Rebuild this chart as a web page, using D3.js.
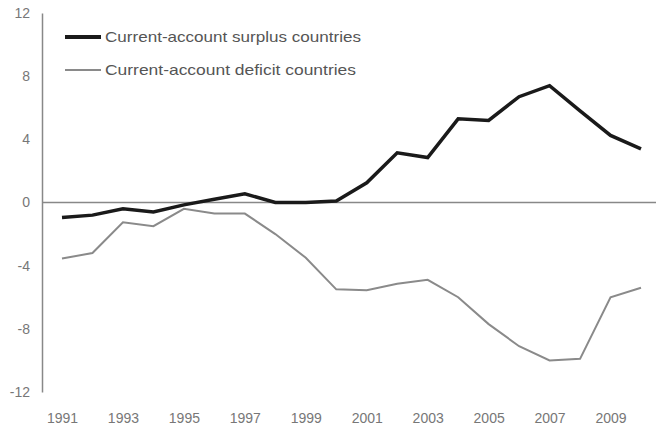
<!DOCTYPE html>
<html>
<head>
<meta charset="utf-8">
<script src="https://cdn.jsdelivr.net/npm/d3@7"></script>
<style>
  body { margin: 0; background: #fff; }
  svg { display: block; font-family: "Liberation Sans", Arial, sans-serif; }
</style>
</head>
<body>
<div id="container"></div>
<script>
const w = 656;
const h = 433;

const years = d3.range(1991, 2011);
const yearLabels = [1991, 1993, 1995, 1997, 1999, 2001, 2003, 2005, 2007, 2009];
const surplus = [-0.95, -0.8, -0.4, -0.6, -0.15, 0.2, 0.55, 0, 0, 0.1, 1.25, 3.15, 2.85, 5.3, 5.2, 6.7, 7.4, 5.8, 4.25, 3.4];
const deficit = [-3.55, -3.2, -1.25, -1.5, -0.4, -0.7, -0.7, -2.0, -3.5, -5.5, -5.55, -5.15, -4.9, -6.0, -7.7, -9.1, -10.0, -9.9, -6.0, -5.4];
const yTicks = [-12, -8, -4, 0, 4, 8, 12];
const seriesNames = ["Current-account surplus countries", "Current-account deficit countries"];

const svg = d3.select("#container").append("svg")
  .attr("width", w)
  .attr("height", h);

const scalex = d3.scalePoint().domain(years).range([62, 641]);
const scaley = d3.scaleLinear().domain([-12, 12]).range([392, 13]);

// y axis: plain line + labels on the left
const axisy = d3.axisLeft(scaley).tickValues(yTicks).tickSize(0).tickPadding(12)
  .tickFormat(d => String(d));
const yg = svg.append("g")
  .attr("transform", "translate(42,0)")
  .call(axisy);
yg.select(".domain").attr("stroke", "#888").attr("stroke-width", 1.5);
yg.selectAll("text").attr("fill", "#777").style("font-size", "14px");

// x axis labels only
const axisx = d3.axisBottom(scalex).tickValues(yearLabels).tickSize(0).tickPadding(0);
const xg = svg.append("g")
  .attr("transform", "translate(0,413)")
  .call(axisx);
xg.select(".domain").remove();
xg.selectAll("text").attr("fill", "#777").style("font-size", "14px");

// zero line
svg.append("line")
  .attr("x1", 42).attr("x2", w)
  .attr("y1", scaley(0)).attr("y2", scaley(0))
  .attr("stroke", "#888").attr("stroke-width", 1.5);

const line = d3.line()
  .x((d, i) => scalex(years[i]))
  .y(d => scaley(d));

svg.append("path")
  .datum(deficit)
  .attr("d", line)
  .attr("fill", "none")
  .attr("stroke", "#8a8a8a")
  .attr("stroke-width", 2);

svg.append("path")
  .datum(surplus)
  .attr("d", line)
  .attr("fill", "none")
  .attr("stroke", "#1a1a1a")
  .attr("stroke-width", 3.5);

// legend
const legend = svg.append("g");
const legStyle = [
  {stroke: "#1a1a1a", width: 4, y: 37, len: 256},
  {stroke: "#8a8a8a", width: 2, y: 70, len: 251}
];
seriesNames.forEach((name, i) => {
  legend.append("line")
    .attr("x1", 65).attr("x2", 101)
    .attr("y1", legStyle[i].y).attr("y2", legStyle[i].y)
    .attr("stroke", legStyle[i].stroke)
    .attr("stroke-width", legStyle[i].width);
  legend.append("text")
    .attr("x", 105).attr("y", legStyle[i].y)
    .attr("dy", "0.35em")
    .attr("fill", "#555")
    .attr("textLength", legStyle[i].len)
    .attr("lengthAdjust", "spacingAndGlyphs")
    .style("font-size", "15px")
    .text(name);
});
</script>
</body>
</html>
